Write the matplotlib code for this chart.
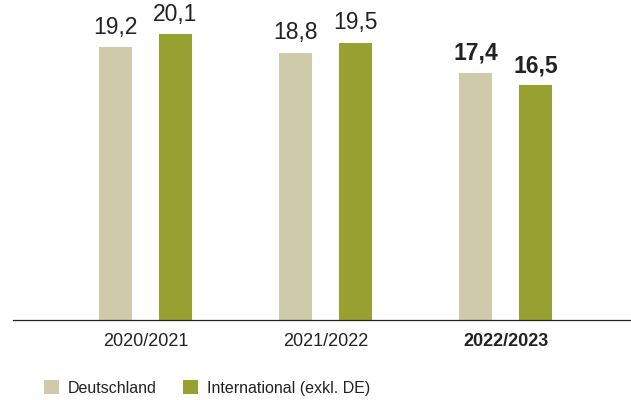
import numpy as np
import matplotlib.pyplot as plt

plt.rcParams['font.family'] = ['Liberation Sans', 'DejaVu Sans']

years = ["2020/2021", "2021/2022", "2022/2023"]
deutschland = [19.2, 18.8, 17.4]
international = [20.1, 19.5, 16.5]
series_names = ["Deutschland", "International (exkl. DE)"]

BEIGE = "#CFCAAA"
GREEN = "#96A132"
TEXT = "#222222"

fig = plt.figure(figsize=(6.31, 4.0), dpi=100)
ax = fig.add_axes([0.02, 0.2, 0.98, 0.8])

x = np.arange(len(years))
width = 0.183
off = 0.167
b1 = ax.bar(x - off, deutschland, width, color=BEIGE, label=series_names[0])
b2 = ax.bar(x + off, international, width, color=GREEN, label=series_names[1])

for bars, vals in ((b1, deutschland), (b2, international)):
    for i, (rect, v) in enumerate(zip(bars, vals)):
        ax.annotate(f"{v:.1f}".replace(".", ","),
                    (rect.get_x() + rect.get_width() / 2, v),
                    xytext=(0, 6), textcoords="offset points",
                    ha="center", va="bottom", fontsize=16.5, color=TEXT,
                    fontweight="bold" if i == len(vals) - 1 else "normal")

ax.set_xlim(-0.738, 2.697)
ax.set_ylim(0, 22.5)
ax.set_xticks(x)
ax.set_xticklabels(years, fontsize=13, color=TEXT)
ax.get_xticklabels()[-1].set_fontweight("bold")
ax.tick_params(axis="x", length=0, pad=9)
ax.set_yticks([])
for s in ["top", "right", "left"]:
    ax.spines[s].set_visible(False)
ax.spines["bottom"].set_color(TEXT)
ax.spines["bottom"].set_linewidth(0.9)

fig.legend(loc="center left", bbox_to_anchor=(0.07, 0.03), ncol=2,
           frameon=False, fontsize=11.5, labelcolor=TEXT,
           handlelength=0.95, handleheight=0.95, handletextpad=0.55,
           columnspacing=1.6, borderpad=0, borderaxespad=0)

fig.savefig("out.png", dpi=100)
